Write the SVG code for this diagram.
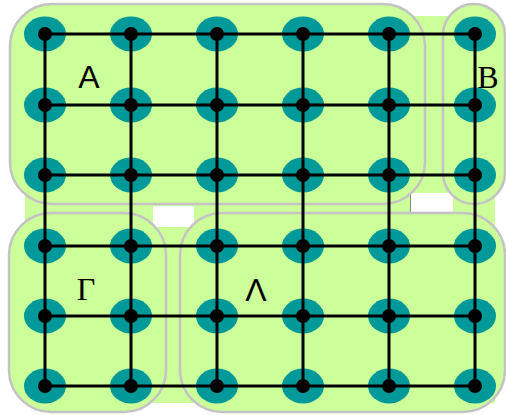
<svg xmlns="http://www.w3.org/2000/svg" width="506" height="415" viewBox="0 0 506 415">
<style>
.bg{fill:#ccff99}
.hole{fill:#ffffff}
.box{fill:#ccff99;stroke:#c3c3c3;stroke-width:2.5}
.halo{fill:#009999}
.dot{fill:#000000}
.edge{stroke:#000000;stroke-width:3;fill:none}
.lbl{font-size:32px;fill:#000000}
.sans{font-family:"Liberation Sans",Arial,sans-serif}
.serif{font-family:"Liberation Serif","Times New Roman",serif}
</style>
<defs>
<g id="node"><ellipse class="halo" cx="0" cy="0" rx="21" ry="17.5"/><circle class="dot" cx="0" cy="0" r="7"/></g>
</defs>
<rect class="bg" x="25" y="16" width="470" height="387"/>
<rect class="hole" x="153" y="206" width="41" height="21"/>
<rect class="hole" x="411" y="193" width="42" height="20"/>
<line x1="410.5" y1="193" x2="410.5" y2="213" stroke="#888" stroke-width="1"/>
<g id="group-A"><rect class="box" x="10" y="4" width="415" height="200" rx="42"/><text class="lbl sans" x="89" y="88" text-anchor="middle">Α</text></g>
<g id="group-B"><rect class="box" x="443" y="4" width="62" height="200" rx="31"/><text class="lbl serif" x="488" y="88" text-anchor="middle">Β</text></g>
<g id="group-Gamma"><rect class="box" x="9" y="213" width="157" height="199" rx="42"/><text class="lbl serif" x="86" y="300" text-anchor="middle">Γ</text></g>
<g id="group-Lambda"><rect class="box" x="180" y="213" width="325" height="199" rx="42"/><text class="lbl sans" x="256" y="301" text-anchor="middle">Λ</text></g>
<g id="nodes">
<g id="n00"><use href="#node" x="45" y="34"/></g><g id="n01"><use href="#node" x="131" y="34"/></g><g id="n02"><use href="#node" x="217" y="34"/></g><g id="n03"><use href="#node" x="303" y="34"/></g><g id="n04"><use href="#node" x="389" y="34"/></g><g id="n05"><use href="#node" x="475" y="34"/></g>
<g id="n10"><use href="#node" x="45" y="105"/></g><g id="n11"><use href="#node" x="131" y="105"/></g><g id="n12"><use href="#node" x="217" y="105"/></g><g id="n13"><use href="#node" x="303" y="105"/></g><g id="n14"><use href="#node" x="389" y="105"/></g><g id="n15"><use href="#node" x="475" y="105"/></g>
<g id="n20"><use href="#node" x="45" y="175"/></g><g id="n21"><use href="#node" x="131" y="175"/></g><g id="n22"><use href="#node" x="217" y="175"/></g><g id="n23"><use href="#node" x="303" y="175"/></g><g id="n24"><use href="#node" x="389" y="175"/></g><g id="n25"><use href="#node" x="475" y="175"/></g>
<g id="n30"><use href="#node" x="45" y="246"/></g><g id="n31"><use href="#node" x="131" y="246"/></g><g id="n32"><use href="#node" x="217" y="246"/></g><g id="n33"><use href="#node" x="303" y="246"/></g><g id="n34"><use href="#node" x="389" y="246"/></g><g id="n35"><use href="#node" x="475" y="246"/></g>
<g id="n40"><use href="#node" x="45" y="316"/></g><g id="n41"><use href="#node" x="131" y="316"/></g><g id="n42"><use href="#node" x="217" y="316"/></g><g id="n43"><use href="#node" x="303" y="316"/></g><g id="n44"><use href="#node" x="389" y="316"/></g><g id="n45"><use href="#node" x="475" y="316"/></g>
<g id="n50"><use href="#node" x="45" y="386"/></g><g id="n51"><use href="#node" x="131" y="386"/></g><g id="n52"><use href="#node" x="217" y="386"/></g><g id="n53"><use href="#node" x="303" y="386"/></g><g id="n54"><use href="#node" x="389" y="386"/></g><g id="n55"><use href="#node" x="475" y="386"/></g>
</g>
<g id="connectors" class="edge">
<path d="M45 34H475M45 105H475M45 175H475M45 246H475M45 316H475M45 386H475"/>
<path d="M45 34V386M131 34V386M217 34V386M303 34V386M389 34V386M475 34V386"/>
</g>
</svg>
